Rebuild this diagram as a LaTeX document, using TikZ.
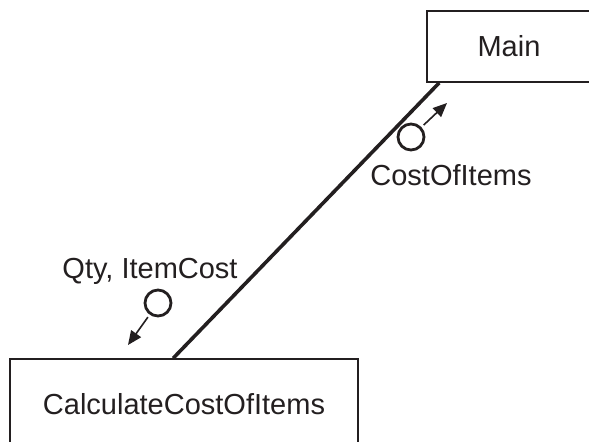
\documentclass[tikz,border=0pt]{standalone}
\usepackage{fontspec}
\setmainfont{Liberation Sans}
\usetikzlibrary{arrows.meta}
\definecolor{ink}{HTML}{231F20}
\begin{document}
\begin{tikzpicture}[x=0.5pt,y=-0.5pt,
  module/.style={draw=ink,text=ink,line width=0.8pt,rectangle,inner sep=0pt,
    font=\fontsize{14.5}{17}\selectfont},
  link/.style={draw=ink,line width=1.8pt},
  couple/.style={draw=ink,circle,line width=1.4pt,minimum size=13pt,inner sep=0pt},
  flow/.style={draw=ink,fill=ink,line width=0.8pt,-{Triangle[length=7pt,width=6pt]},shorten <=1.5pt},
  tag/.style={text=ink,font=\fontsize{14.5}{17}\selectfont,inner sep=0pt}]
\path[use as bounding box] (0,0) rectangle (589,441);
\clip (0,0) rectangle (589,441);

% modules
\node[module,minimum width=82pt,minimum height=35.5pt] (main) at (509,46.5) {Main};
\node[module,minimum width=174pt,minimum height=45pt] (calc) at (184,404) {CalculateCostOfItems};

% call link
\draw[link] ([xshift=82pt]calc.north west) -- ([xshift=6.5pt]main.south west);

% data couple passed up
\node[couple] (up) at (411,137) {};
\coordinate (uptip) at (447,103);
\draw[flow] (up) -- (uptip);
\node[tag] (uplabel) at (451,175) {CostOfItems};

% data couple passed down
\node[couple] (down) at (158,303) {};
\coordinate (downtip) at (128,345);
\draw[flow] (down) -- (downtip);
\node[tag] (downlabel) at (150,271) {Qty, ItemCost};
\end{tikzpicture}
\end{document}
